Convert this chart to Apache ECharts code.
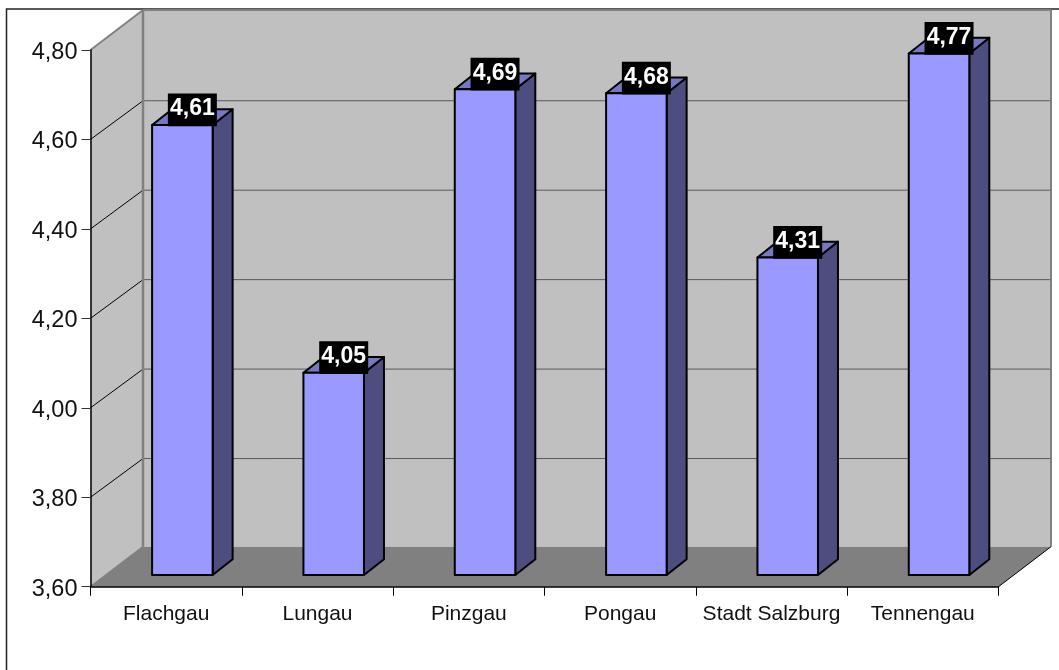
<!DOCTYPE html>
<html><head><meta charset="utf-8">
<style>html,body{margin:0;padding:0;background:#fff}#c{width:1059px;height:670px}</style>
<script src="https://cdn.jsdelivr.net/npm/echarts@6/dist/echarts.min.js"></script>
</head><body><div id="c"></div>
<script>
var categories = ['Flachgau','Lungau','Pinzgau','Pongau','Stadt Salzburg','Tennengau'];
var values = [4.606,4.052,4.686,4.677,4.31,4.766];
var valueLabels = ['4,61','4,05','4,69','4,68','4,31','4,77'];
var tickValues = [3.6,3.8,4.0,4.2,4.4,4.6,4.8];
var tickLabels = ['3,60','3,80','4,00','4,20','4,40','4,60','4,80'];

var FONT = '"Liberation Sans", Arial, sans-serif';
var WALL = [52.5,-40], GRID_DY = -38.7, BAR_OFF = [16.2,-11.7], BAR_DEPTH = [20,-15.8];
var chart = echarts.init(document.getElementById('c'), null, {renderer:'canvas'});

function line(p,q,stroke,w){
  return {type:'line',shape:{x1:p[0],y1:p[1],x2:q[0],y2:q[1]},style:{stroke:stroke,lineWidth:w}};
}
function poly(points,fill,stroke,w){
  return {type:'polygon',shape:{points:points},style:{fill:fill,stroke:stroke,lineWidth:w,lineJoin:'round'}};
}
function renderWalls(params,api){
  var cs = params.coordSys;
  var L = cs.x, R = cs.x+cs.width, T = cs.y, B = cs.y+cs.height, dx = WALL[0], dy = WALL[1];
  var ch = [
    poly([[L+dx,T+dy],[R+dx,T+dy],[R+dx,B+dy],[L+dx,B+dy]],'#C0C0C0','none',0),
    poly([[L,T],[L+dx,T+dy],[L+dx,B+dy],[L,B]],'#C0C0C0','none',0),
    poly([[L,B],[L+dx,B+dy],[R+dx,B+dy],[R,B]],'#808080','none',0)
  ];
  tickValues.forEach(function(v,i){
    if(i===0||i===tickValues.length-1) return;
    var y = api.coord([0,v])[1];
    ch.push(line([L,y],[L+dx,y+GRID_DY],'#000',1));
    ch.push(line([L+dx,y+GRID_DY],[R+dx,y+GRID_DY],'#5a5a5a',1));
  });
  ch.push(line([L,T],[L+dx,T+dy],'#808080',2));
  ch.push(line([L,B],[L+dx,B+dy],'#808080',1.5));
  ch.push(line([L+dx,T+dy],[R+dx,T+dy],'#808080',2));
  ch.push(line([L+dx,T+dy],[L+dx,B+dy],'#808080',2.5));
  ch.push(line([R+dx,T+dy],[R+dx,B+dy],'#808080',2));
  ch.push(line([R,B],[R+dx,B+dy],'#000',1));
  return {type:'group',children:ch};
}
function renderBar(params,api){
  var top = api.coord([api.value(0),api.value(1)]);
  var base = api.coord([api.value(0),tickValues[0]]);
  var w = api.size([1,0])[0]*0.4;
  var x0 = top[0]+BAR_OFF[0]-w/2, x1 = x0+w;
  var yt = top[1]+BAR_OFF[1], yb = base[1]+BAR_OFF[1];
  var dx = BAR_DEPTH[0], dy = BAR_DEPTH[1];
  var cx = x0+w/2+10;
  return {type:'group',children:[
    poly([[x1,yt],[x1+dx,yt+dy],[x1+dx,yb+dy],[x1,yb]],'#4D4D80','#000',2),
    poly([[x0,yt],[x0+dx,yt+dy],[x1+dx,yt+dy],[x1,yt]],'#7777C4','#000',2),
    poly([[x0,yt],[x1,yt],[x1,yb],[x0,yb]],'#9999FF','#000',2),
    {type:'rect',shape:{x:cx-24.5,y:yt-31.5,width:49,height:32.7},style:{fill:'#000'}},
    {type:'text',style:{text:valueLabels[params.dataIndex],x:cx,y:yt-16,align:'center',verticalAlign:'middle',
      fill:'#fff',font:'bold 23px '+FONT}}
  ]};
}
chart.setOption({
  animation:false,
  backgroundColor:'#fff',
  graphic:[{type:'polyline',shape:{points:[[6.5,670],[6.5,9],[1059,9]]},style:{stroke:'#222',lineWidth:1.5,fill:'none'},silent:true}],
  grid:{left:90.5,right:60.5,top:50,bottom:83.3},
  xAxis:{type:'category',data:categories,z:3,
    axisLine:{lineStyle:{color:'#000',width:1.5}},
    axisTick:{show:true,alignWithLabel:false,length:9,lineStyle:{color:'#000'}},
    axisLabel:{color:'#111',fontFamily:FONT,fontSize:21,margin:17,interval:0},
    splitLine:{show:false}},
  yAxis:{type:'value',min:tickValues[0],max:tickValues[tickValues.length-1],interval:0.2,z:3,
    axisLine:{show:true,lineStyle:{color:'#000',width:1.5}},
    axisTick:{show:true,length:9,lineStyle:{color:'#333'}},
    axisLabel:{color:'#111',fontFamily:FONT,fontSize:23.5,margin:13,verticalAlign:'top',lineHeight:5,
      formatter:function(v){return tickLabels[Math.round((v-tickValues[0])/0.2)];}},
    splitLine:{show:false}},
  series:[
    {type:'custom',z:1,silent:true,data:[[0,tickValues[0]]],renderItem:renderWalls,encode:{x:0,y:1},clip:false},
    {type:'custom',z:4,silent:true,data:values.map(function(v,i){return [i,v];}),renderItem:renderBar,encode:{x:0,y:1},clip:false}
  ]
});
</script></body></html>
